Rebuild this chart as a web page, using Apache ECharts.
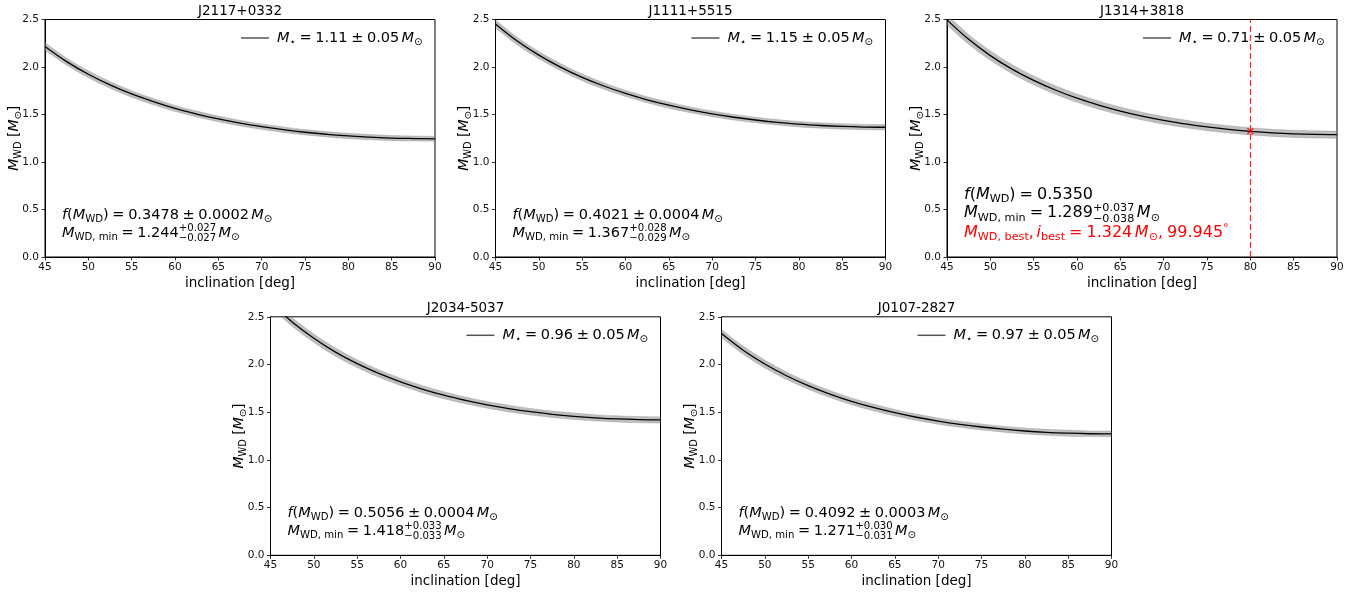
<!DOCTYPE html>
<html><head><meta charset="utf-8">
<script src="https://cdn.jsdelivr.net/npm/echarts@6/dist/echarts.min.js"></script>
<style>html,body{margin:0;padding:0;background:#fff}#c{width:1368px;height:594px}</style>
</head><body><div id="c"></div>
<script>
// ---------------- data ----------------
const inclination = [45, 47.5, 50, 52.5, 55, 57.5, 60, 62.5, 65, 67.5, 70, 72.5, 75, 77.5, 80, 82.5, 85, 87.5, 90];
const xTickValues = [45, 50, 55, 60, 65, 70, 75, 80, 85, 90];
const yTickValues = [0.0, 0.5, 1.0, 1.5, 2.0, 2.5];

const titles = ['J2117+0332', 'J1111+5515', 'J1314+3818', 'J2034-5037', 'J0107-2827'];

const J2117_mass = [2.216, 2.057, 1.924, 1.812, 1.716, 1.635, 1.564, 1.505, 1.453, 1.409, 1.372, 1.340, 1.313, 1.292, 1.274, 1.262, 1.252, 1.247, 1.244];
const J2117_err  = [0.040, 0.038, 0.037, 0.035, 0.034, 0.033, 0.032, 0.031, 0.030, 0.030, 0.029, 0.029, 0.028, 0.028, 0.028, 0.028, 0.027, 0.027, 0.027];
const J1111_mass = [2.453, 2.274, 2.125, 1.999, 1.891, 1.800, 1.722, 1.655, 1.598, 1.549, 1.507, 1.471, 1.442, 1.418, 1.398, 1.384, 1.374, 1.368, 1.366];
const J1111_err  = [0.042, 0.040, 0.038, 0.037, 0.035, 0.034, 0.033, 0.032, 0.032, 0.031, 0.030, 0.030, 0.030, 0.029, 0.029, 0.029, 0.028, 0.028, 0.028];
const J1314_mass = [2.496, 2.291, 2.120, 1.978, 1.859, 1.758, 1.672, 1.599, 1.536, 1.483, 1.438, 1.401, 1.369, 1.343, 1.323, 1.307, 1.296, 1.290, 1.288];
const J1314_err  = [0.054, 0.052, 0.050, 0.048, 0.047, 0.045, 0.044, 0.043, 0.042, 0.041, 0.040, 0.040, 0.039, 0.039, 0.038, 0.038, 0.038, 0.038, 0.038];
const J2034_mass = [2.652, 2.446, 2.275, 2.130, 2.009, 1.906, 1.818, 1.743, 1.678, 1.624, 1.577, 1.538, 1.505, 1.478, 1.457, 1.441, 1.429, 1.422, 1.419];
const J2034_err  = [0.048, 0.046, 0.044, 0.043, 0.041, 0.040, 0.039, 0.038, 0.037, 0.036, 0.035, 0.035, 0.034, 0.034, 0.034, 0.033, 0.033, 0.033, 0.033];
const J0107_mass = [2.324, 2.150, 2.005, 1.882, 1.778, 1.690, 1.614, 1.550, 1.495, 1.447, 1.407, 1.373, 1.345, 1.322, 1.303, 1.289, 1.280, 1.274, 1.272];
const J0107_err  = [0.044, 0.043, 0.041, 0.039, 0.038, 0.037, 0.036, 0.035, 0.034, 0.033, 0.033, 0.032, 0.032, 0.031, 0.031, 0.031, 0.031, 0.030, 0.030];

const mStar    = ['1.11', '1.15', '0.71', '0.96', '0.97'];
const fMass    = ['0.3478', '0.4021', '0.5350', '0.5056', '0.4092'];
const fMassErr = ['0.0002', '0.0004', null, '0.0004', '0.0003'];
const mMin     = ['1.244', '1.367', '1.289', '1.418', '1.271'];
const mMinUp   = ['+0.027', '+0.028', '+0.037', '+0.033', '+0.030'];
const mMinLo   = ['\u22120.027', '\u22120.029', '\u22120.038', '\u22120.033', '\u22120.031'];

const bestPanel = 2;
const bestPoint = [80, 1.324];
const bestLabel = ['1.324', '99.945'];

// ---------------- layout ----------------
const masses = [J2117_mass, J1111_mass, J1314_mass, J2034_mass, J0107_mass];
const errs = [J2117_err, J1111_err, J1314_err, J2034_err, J0107_err];
const grids = [
  {left: 45,    top: 19.5,  width: 390, height: 237.5},
  {left: 495.5, top: 19.5,  width: 390, height: 237.5},
  {left: 947,   top: 19.5,  width: 390, height: 237.5},
  {left: 270.5, top: 316.8, width: 390, height: 238.5},
  {left: 721.5, top: 316.8, width: 390, height: 238.5}
];
const FONT = 'DejaVu Sans';

// ---------------- tiny math typesetter ----------------
const meas = document.createElement('canvas').getContext('2d');
function measure(t, s, it) { meas.font = (it ? 'italic ' : '') + s + 'px "' + FONT + '"'; return meas.measureText(t).width; }
function R(t, o) { return Object.assign({t: t}, o || {}); }
const SP = {sp: 0.25}, TS = {sp: 0.16};
function txt(t, x, base, s, it, color) {
  return {type: 'text', x: x, y: base - 0.35 * s, silent: true,
    style: {text: t, fontSize: s, fontFamily: FONT, fontStyle: it ? 'italic' : 'normal', fill: color,
      align: 'left', verticalAlign: 'middle', textAlign: 'left', textVerticalAlign: 'middle'}};
}
function layout(runs, size, color) {
  let x = 0; const els = [];
  for (const r of runs) {
    if (r.sp != null) { x += r.sp * size; continue; }
    if (r.stack) {
      const s = size * 0.7;
      const w = Math.max(measure(r.stack[0], s), measure(r.stack[1], s));
      els.push(txt(r.stack[0], x, -0.43 * size, s, false, color));
      els.push(txt(r.stack[1], x, 0.27 * size, s, false, color));
      x += w; continue;
    }
    const s = (r.sub || r.sup) ? size * 0.7 : size;
    const dy = r.sub ? 0.2 * size : (r.sup ? -0.42 * size : 0);
    els.push(txt(r.t, x, dy, s, r.it, color));
    x += measure(r.t, s, r.it);
  }
  return {els: els, width: x};
}
const M = () => R('M', {it: 1});
const SUN = () => R('\u2299', {sub: 1});

// Catmull-Rom spline through pixel points (continuation of a path)
function splinePath(p) {
  let d = '';
  for (let i = 0; i < p.length - 1; i++) {
    const p0 = p[i - 1] || p[i], p1 = p[i], p2 = p[i + 1], p3 = p[i + 2] || p[i + 1];
    const c1 = [p1[0] + (p2[0] - p0[0]) / 6, p1[1] + (p2[1] - p0[1]) / 6];
    const c2 = [p2[0] - (p3[0] - p1[0]) / 6, p2[1] - (p3[1] - p1[1]) / 6];
    d += ' C' + c1[0] + ',' + c1[1] + ' ' + c2[0] + ',' + c2[1] + ' ' + p2[0] + ',' + p2[1];
  }
  return d;
}

const graphics = [];
const series = [];
const gridOpts = [], xAxes = [], yAxes = [], titleOpts = [];

grids.forEach((g, i) => {
  gridOpts.push(Object.assign({show: true, borderColor: '#000', borderWidth: 1, backgroundColor: 'transparent', containLabel: false, outerBoundsMode: 'none'}, g));
  xAxes.push({type: 'value', gridIndex: i, min: xTickValues[0], max: xTickValues[xTickValues.length - 1], interval: 5,
    axisLine: {show: true, onZero: false, lineStyle: {color: '#000', width: 1}},
    axisTick: {show: true, length: 3.5, lineStyle: {color: '#000', width: 0.8}},
    axisLabel: {fontSize: 10.5, color: '#111', fontFamily: FONT, margin: 4.5},
    splitLine: {show: false},
    name: 'inclination [deg]', nameLocation: 'middle', nameGap: 19,
    nameTextStyle: {fontSize: 13.5, color: '#000', fontFamily: FONT}});
  yAxes.push({type: 'value', gridIndex: i, min: yTickValues[0], max: yTickValues[yTickValues.length - 1], interval: 0.5,
    axisLine: {show: true, onZero: false, lineStyle: {color: '#000', width: 1}},
    axisTick: {show: true, length: 3.5, lineStyle: {color: '#000', width: 0.8}},
    axisLabel: {fontSize: 10.5, color: '#111', fontFamily: FONT, margin: 6, formatter: v => v.toFixed(1)},
    splitLine: {show: false}});
  titleOpts.push({text: titles[i], left: g.left + g.width / 2, top: g.top - 15.5, textAlign: 'center', padding: 0,
    textStyle: {fontSize: 13.5, fontWeight: 'normal', color: '#000', fontFamily: FONT}});

  const mass = masses[i], err = errs[i];
  // uncertainty band (from M_* +/- 0.05)
  series.push({type: 'custom', name: titles[i] + ' band', xAxisIndex: i, yAxisIndex: i, silent: true, z: 2,
    data: inclination.map((x, j) => [x, mass[j] - err[j], mass[j] + err[j]]),
    encode: {x: 0, y: [1, 2]},
    renderItem: function (params, api) {
      if (params.dataIndex !== 0) return null;
      const up = inclination.map((x, j) => api.coord([x, mass[j] + err[j]]));
      const lo = inclination.map((x, j) => api.coord([x, mass[j] - err[j]])).reverse();
      const d = 'M' + up[0][0] + ',' + up[0][1] + splinePath(up) + ' L' + lo[0][0] + ',' + lo[0][1] + splinePath(lo) + ' Z';
      const cs = params.coordSys;
      return {type: 'group', clipPath: {type: 'rect', shape: {x: cs.x, y: cs.y, width: cs.width, height: cs.height}},
        children: [{type: 'path', shape: {pathData: d},
          style: {fill: 'rgba(128,128,128,0.5)', stroke: 'rgba(128,128,128,0.35)', lineWidth: 0.8}}]};
    }});
  const main = {type: 'line', name: titles[i], xAxisIndex: i, yAxisIndex: i,
    data: inclination.map((x, j) => [x, mass[j]]), smooth: 0.4, symbol: 'none', clip: true,
    lineStyle: {color: '#000', width: 1.3}, silent: true, z: 3};
  if (i === bestPanel) {
    main.markLine = {symbol: ['none', 'none'], silent: true, label: {show: false},
      lineStyle: {color: 'rgba(255,0,0,0.85)', type: [6, 3], width: 1.2},
      data: [{xAxis: bestPoint[0]}]};
  }
  series.push(main);
  if (i === bestPanel) {
    series.push({type: 'scatter', xAxisIndex: i, yAxisIndex: i, data: [bestPoint],
      symbol: 'path://M0,0L10,10M10,0L0,10', symbolSize: 6,
      itemStyle: {color: 'transparent', borderColor: '#ff0000', borderWidth: 1.5}, z: 5, silent: true});
  }

  // y axis label (rotated)
  const ylab = layout([M(), R('WD', {sub: 1}), R(' ['), M(), SUN(), R(']')], 14, '#000');
  ylab.els.forEach(e => { e.x -= ylab.width / 2; e.y += 5; });
  graphics.push({type: 'group', x: g.left - 31, y: g.top + g.height / 2, rotation: Math.PI / 2, children: ylab.els, silent: true});

  // legend
  const lg = layout([M(), R('\u22c6', {sub: 1}), SP, R('='), SP, R(mStar[i]), SP, R('\u00b1'), SP, R('0.05'), TS, M(), SUN()], 14.5, '#000');
  const lgX = g.left + g.width - 12.5 - lg.width, lgY = g.top + 18.5;
  graphics.push({type: 'group', x: lgX, y: lgY + 5, children: lg.els, silent: true});
  graphics.push({type: 'line', silent: true, shape: {x1: lgX - 36, y1: lgY, x2: lgX - 8, y2: lgY},
    style: {stroke: '#555', lineWidth: 1.5}});

  // annotations
  const big = (i === bestPanel);
  const fs = big ? 16 : 14.5;
  const l1runs = [R('f', {it: 1}), R('('), M(), R('WD', {sub: 1}), R(')'), SP, R('='), SP, R(fMass[i])];
  if (fMassErr[i]) l1runs.push(SP, R('\u00b1'), SP, R(fMassErr[i]), TS, M(), SUN());
  const l2runs = [M(), R('WD, min', {sub: 1}), SP, R('='), SP, R(mMin[i]), R('', {stack: [mMinUp[i], mMinLo[i]]}), TS, M(), SUN()];
  const ax = g.left + 17, bottom = g.top + g.height;
  const base1 = big ? bottom - 57 : bottom - 37;
  const base2 = big ? bottom - 38.5 : bottom - 19;
  graphics.push({type: 'group', x: ax, y: base1, children: layout(l1runs, fs, '#000').els, silent: true});
  graphics.push({type: 'group', x: ax, y: base2, children: layout(l2runs, fs, '#000').els, silent: true});
  if (big) {
    const l3runs = [M(), R('WD, best', {sub: 1}), R(','), TS, R('i', {it: 1}), R('best', {sub: 1}), SP, R('='), SP,
      R(bestLabel[0]), TS, M(), SUN(), R(','), SP, R(bestLabel[1]), R('\u00b0', {sup: 1})];
    graphics.push({type: 'group', x: ax, y: bottom - 18.7, children: layout(l3runs, fs, '#ff0000').els, silent: true});
  }
});

const chart = echarts.init(document.getElementById('c'), null, {renderer: 'canvas'});
chart.setOption({
  animation: false,
  backgroundColor: '#fff',
  title: titleOpts,
  grid: gridOpts,
  xAxis: xAxes,
  yAxis: yAxes,
  series: series,
  graphic: graphics
});
</script>
</body></html>
